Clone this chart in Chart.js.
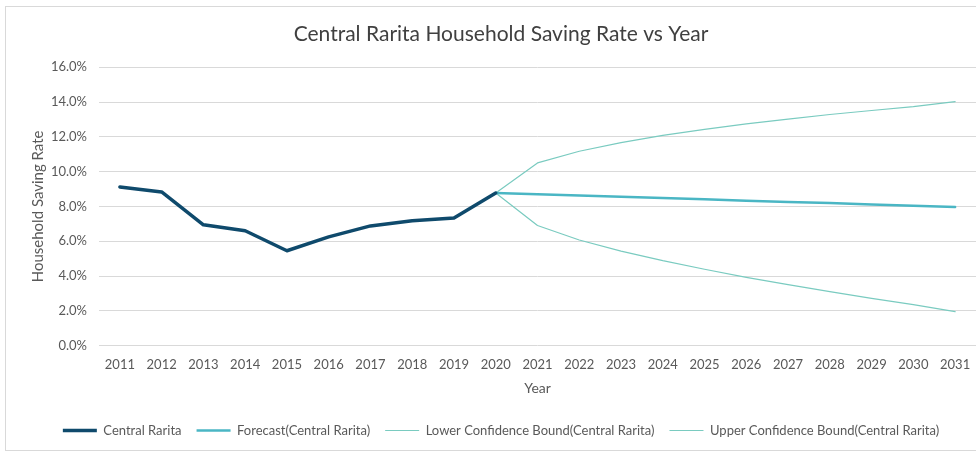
<!DOCTYPE html>
<html>
<head>
<meta charset="utf-8">
<script src="https://cdn.jsdelivr.net/npm/chart.js@4.4.0/dist/chart.umd.min.js"></script>
<style>
  html, body { margin: 0; padding: 0; background: #fff; }
  #wrap { width: 976px; height: 452px; position: relative; }
</style>
</head>
<body>
<div id="wrap"><canvas id="savingChart" width="976" height="452"></canvas></div>
<script>
// Years on the x axis
const years = ['2011', '2012', '2013', '2014', '2015', '2016', '2017', '2018', '2019', '2020',
  '2021', '2022', '2023', '2024', '2025', '2026', '2027', '2028', '2029', '2030', '2031'];

// Observed saving rate (%) 2011-2020
const actualRate = [9.12, 8.83, 6.94, 6.60, 5.45, 6.25, 6.88, 7.17, 7.34, 8.77,
  null, null, null, null, null, null, null, null, null, null, null];

// Forecast and confidence bounds 2020-2031
const forecastRate = [null, null, null, null, null, null, null, null, null, 8.77,
  8.70, 8.62, 8.55, 8.48, 8.41, 8.33, 8.26, 8.19, 8.11, 8.04, 7.97];
const lowerBound = [null, null, null, null, null, null, null, null, null, 8.77,
  6.90, 6.07, 5.43, 4.88, 4.39, 3.92, 3.50, 3.10, 2.71, 2.35, 1.95];
const upperBound = [null, null, null, null, null, null, null, null, null, 8.77,
  10.50, 11.17, 11.67, 12.08, 12.43, 12.74, 13.02, 13.28, 13.51, 13.73, 14.02];

const FONT = 'Lato, "Open Sans", sans-serif';
const TEXT = '#595959';

// light frame around the whole chart
const framePlugin = {
  id: 'frame',
  beforeDraw(chart) {
    const ctx = chart.ctx;
    ctx.save();
    ctx.strokeStyle = '#d9d9d9';
    ctx.lineWidth = 1;
    ctx.strokeRect(5.5, 6.5, 1000, 444);
    ctx.restore();
  }
};

new Chart(document.getElementById('savingChart'), {
  type: 'line',
  data: {
    labels: years,
    datasets: [{
      label: 'Central Rarita',
      data: actualRate,
      borderColor: '#0f4a6c',
      backgroundColor: '#0f4a6c',
      borderWidth: 3.5,
      order: 0
    }, {
      label: 'Forecast(Central Rarita)',
      data: forecastRate,
      borderColor: '#4ab6c4',
      backgroundColor: '#4ab6c4',
      borderWidth: 2.5,
      order: 1
    }, {
      label: 'Lower Confidence Bound(Central Rarita)',
      data: lowerBound,
      borderColor: '#7acbc0',
      backgroundColor: '#7acbc0',
      borderWidth: 1.2,
      order: 2
    }, {
      label: 'Upper Confidence Bound(Central Rarita)',
      data: upperBound,
      borderColor: '#7acbc0',
      backgroundColor: '#7acbc0',
      borderWidth: 1.2,
      order: 3
    }]
  },
  options: {
    responsive: false,
    animation: false,
    spanGaps: false,
    elements: {
      point: { radius: 0, hoverRadius: 0 },
      line: { tension: 0, borderCapStyle: 'round', borderJoinStyle: 'round' }
    },
    layout: { padding: { left: 26, right: 0, top: 20, bottom: 5 } },
    plugins: {
      title: {
        display: true,
        text: 'Central Rarita Household Saving Rate vs Year',
        color: '#404040',
        font: { family: FONT, size: 21, weight: 'normal' },
        padding: { top: 2, bottom: 20 }
      },
      legend: {
        position: 'bottom',
        labels: {
          usePointStyle: true,
          pointStyle: 'line',
          pointStyleWidth: 34,
          color: TEXT,
          font: { family: FONT, size: 13 },
          padding: 15
        }
      },
      tooltip: { enabled: false }
    },
    scales: {
      x: {
        offset: true,
        grid: { display: false },
        border: { display: false },
        ticks: { color: TEXT, font: { family: FONT, size: 13 }, maxRotation: 0, padding: 3 },
        title: { display: true, text: 'Year', color: TEXT, font: { family: FONT, size: 14 }, padding: { top: 5, bottom: 12 } }
      },
      y: {
        min: 0,
        max: 16,
        afterFit(scale) { scale.width = 73; },
        ticks: {
          stepSize: 2,
          color: TEXT,
          font: { family: FONT, size: 13 },
          padding: 12,
          callback: v => v.toFixed(1) + '%'
        },
        grid: { color: '#d9d9d9', drawTicks: false },
        border: { display: false },
        title: { display: true, text: 'Household Saving Rate', color: TEXT, font: { family: FONT, size: 15 }, padding: { top: 3, bottom: 4 } }
      }
    }
  },
  plugins: [framePlugin]
});
</script>
</body>
</html>
